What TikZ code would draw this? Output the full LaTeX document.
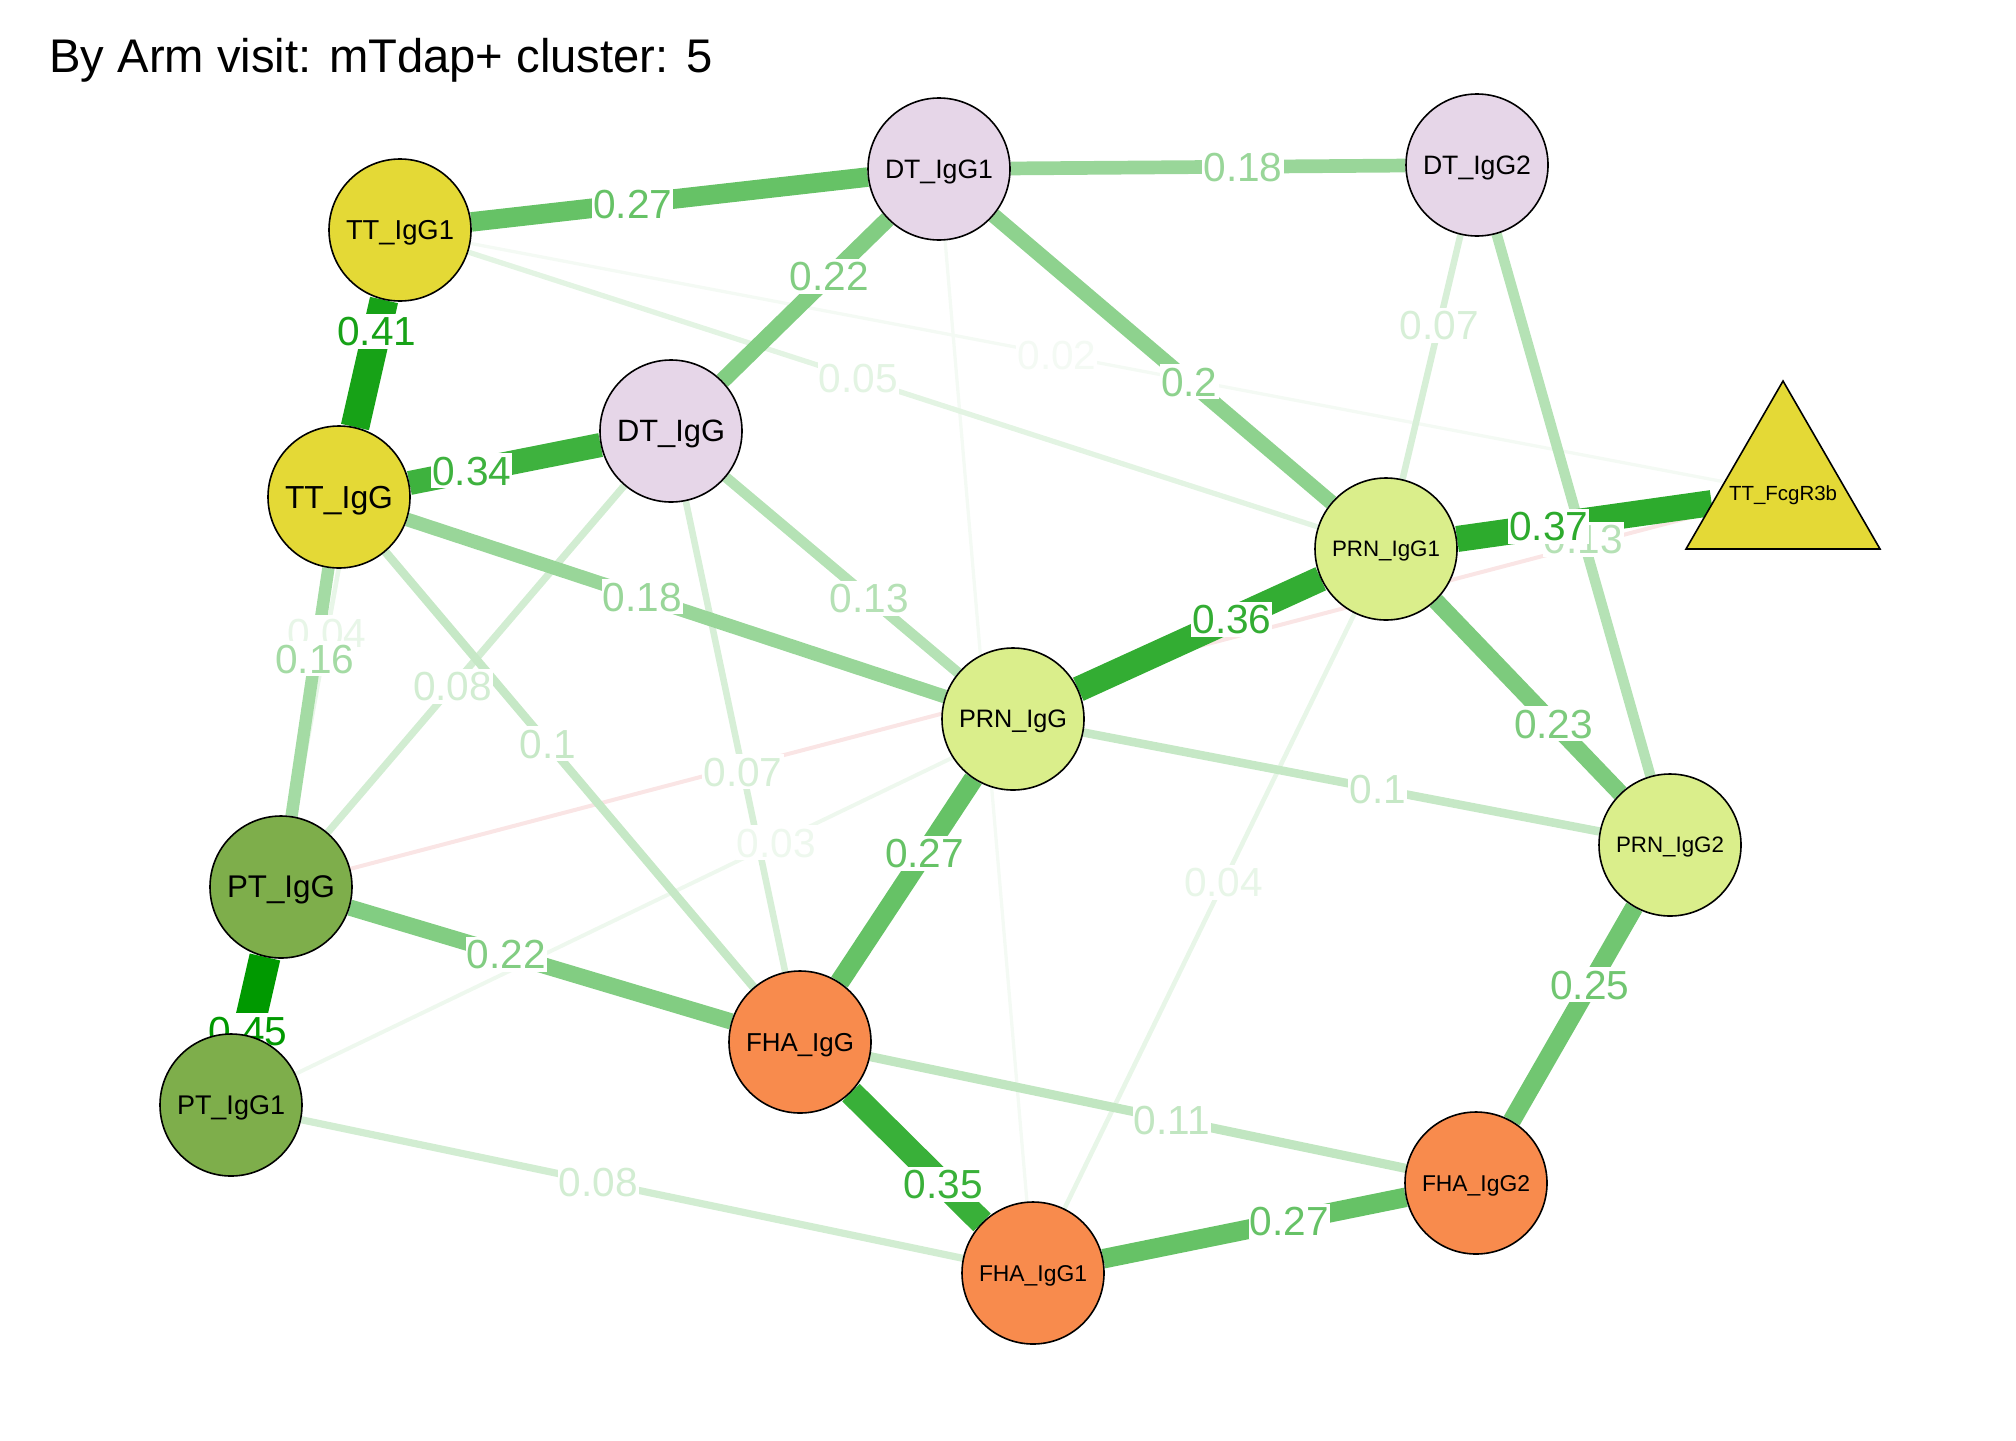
\documentclass[tikz,border=0pt]{standalone}
\usepackage{fontspec}
\setmainfont{Liberation Sans}
\usepackage{graphicx}
\usetikzlibrary{calc,shapes.geometric}
\definecolor{qPos}{HTML}{009900}
\definecolor{qNeg}{HTML}{CC0000}
\definecolor{TTfill}{RGB}{228,217,54}
\definecolor{DTfill}{RGB}{230,214,232}
\definecolor{PRNfill}{RGB}{218,238,139}
\definecolor{PTfill}{RGB}{126,174,75}
\definecolor{FHAfill}{RGB}{248,139,77}
\newcommand{\nlab}[1]{\resizebox{54pt}{!}{\raisebox{0pt}[\height][0pt]{#1}}}
\pgfdeclarelayer{edges}
\pgfdeclarelayer{labels}
\pgfsetlayers{edges,labels,main}

\begin{document}
\begin{tikzpicture}[x=0.5pt, y=-0.5pt]
  \tikzset{
    v/.style={circle, draw=black, line width=0.8pt, minimum size=71pt, inner sep=0pt},
    tri/.style={regular polygon, regular polygon sides=3, draw=black, line width=0.8pt, minimum size=112pt, inner sep=0pt},
    ew/.code={\pgfmathsetmacro\ecol{#1/0.45*100}\pgfmathsetmacro\ewid{1+32.5*#1}%
      \edef\edgeopts{\noexpand\tikzset{draw=qPos!\ecol!white, line width=\ewid pt}}\edgeopts},
    neg/.style={draw=qNeg!10!white, line width=2pt},
    elab/.style={fill=white, inner xsep=0.5pt, inner ysep=1.5pt, text height=14.5pt, text depth=0pt, font=\fontsize{20.3}{24}\selectfont},
    lab/.code={\pgfmathsetmacro\lcol{#1/0.45*100}%
      \edef\labopts{\noexpand\tikzset{elab, text=qPos!\lcol!white}}\labopts}
  }
  \useasboundingbox (0,0) rectangle (2016,1440);

  \node[anchor=base west, inner sep=0pt, font=\fontsize{23.6}{28}\selectfont] (title) at (49,72) {By Arm visit: mTdap+ cluster: 5};

  % nodes
  \node[v, fill=TTfill] (tt1) at (400,230) {\nlab{TT\_IgG1}};
  \node[v, fill=TTfill] (tt) at (339,497) {\nlab{TT\_IgG}};
  \node[v, fill=DTfill] (dt1) at (939,169) {\nlab{DT\_IgG1}};
  \node[v, fill=DTfill] (dt2) at (1477,165) {\nlab{DT\_IgG2}};
  \node[v, fill=DTfill] (dt) at (671,431) {\nlab{DT\_IgG}};
  \node[v, fill=PRNfill] (prn1) at (1386,549) {\nlab{PRN\_IgG1}};
  \node[v, fill=PRNfill] (prn) at (1013,719) {\nlab{PRN\_IgG}};
  \node[v, fill=PRNfill] (prn2) at (1670,845) {\nlab{PRN\_IgG2}};
  \node[v, fill=PTfill] (pt) at (281,887) {\nlab{PT\_IgG}};
  \node[v, fill=PTfill] (pt1) at (231,1105) {\nlab{PT\_IgG1}};
  \node[v, fill=FHAfill] (fha) at (800,1042) {\nlab{FHA\_IgG}};
  \node[v, fill=FHAfill] (fha1) at (1033,1273) {\nlab{FHA\_IgG1}};
  \node[v, fill=FHAfill] (fha2) at (1476,1183) {\nlab{FHA\_IgG2}};
  \node[tri, fill=TTfill, label={center:\nlab{TT\_FcgR3b}}] (fcg) at (1783,493) {};

  % edges, weakest first
  \begin{pgfonlayer}{edges}
    \draw[ew=0.02] (dt1) -- (fha1);
    \draw[neg] (pt) -- (fcg);
    \draw[ew=0.02] (tt1) -- (fcg);
    \draw[ew=0.03] (pt1) -- (prn1);
    \draw[ew=0.04] (tt1) -- (pt);
    \draw[ew=0.04] (prn1) -- (fha1);
    \draw[ew=0.05] (tt1) -- (prn1);
    \draw[ew=0.07] (dt2) -- (prn1);
    \draw[ew=0.07] (dt) -- (fha);
    \draw[ew=0.08] (dt) -- (pt);
    \draw[ew=0.08] (pt1) -- (fha1);
    \draw[ew=0.1] (tt) -- (fha);
    \draw[ew=0.1] (prn) -- (prn2);
    \draw[ew=0.11] (fha) -- (fha2);
    \draw[ew=0.13] (dt2) -- (prn2);
    \draw[ew=0.13] (dt) -- (prn);
    \draw[ew=0.16] (tt) -- (pt);
    \draw[ew=0.18] (dt1) -- (dt2);
    \draw[ew=0.18] (tt) -- (prn);
    \draw[ew=0.2] (dt1) -- (prn1);
    \draw[ew=0.22] (dt1) -- (dt);
    \draw[ew=0.22] (pt) -- (fha);
    \draw[ew=0.23] (prn1) -- (prn2);
    \draw[ew=0.25] (prn2) -- (fha2);
    \draw[ew=0.27] (tt1) -- (dt1);
    \draw[ew=0.27] (prn) -- (fha);
    \draw[ew=0.27] (fha1) -- (fha2);
    \draw[ew=0.34] (tt) -- (dt);
    \draw[ew=0.35] (fha) -- (fha1);
    \draw[ew=0.36] (prn) -- (prn1);
    \draw[ew=0.37] (prn1) -- (fcg);
    \draw[ew=0.41] (tt1) -- (tt);
    \draw[ew=0.45] (pt) -- (pt1);
  \end{pgfonlayer}

  % weights
  \begin{pgfonlayer}{labels}
    \node[lab=0.02] (w-tt1-fcg) at ($(tt1)!0.475!(fcg)$) {0.02};
    \node[lab=0.03] (w-pt1-prn1) at ($(pt1)!0.472!(prn1)$) {0.03};
    \node[lab=0.04] (w-tt1-pt) at ($(tt1)!0.613!(pt)$) {0.04};
    \node[lab=0.04] (w-prn1-fha1) at ($(prn1)!0.46!(fha1)$) {0.04};
    \node[lab=0.05] (w-tt1-prn1) at ($(tt1)!0.465!(prn1)$) {0.05};
    \node[lab=0.07] (w-dt2-prn1) at ($(dt2)!0.417!(prn1)$) {0.07};
    \node[lab=0.07] (w-dt-fha) at ($(dt)!0.558!(fha)$) {0.07};
    \node[lab=0.08] (w-dt-pt) at ($(dt)!0.56!(pt)$) {0.08};
    \node[lab=0.08] (w-pt1-fha1) at ($(pt1)!0.458!(fha1)$) {0.08};
    \node[lab=0.1] (w-tt-fha) at ($(tt)!0.453!(fha)$) {0.1};
    \node[lab=0.1] (w-prn-prn2) at ($(prn)!0.555!(prn2)$) {0.1};
    \node[lab=0.11] (w-fha-fha2) at ($(fha)!0.55!(fha2)$) {0.11};
    \node[lab=0.13] (w-dt2-prn2) at ($(dt2)!0.55!(prn2)$) {0.13};
    \node[lab=0.13] (w-dt-prn) at ($(dt)!0.58!(prn)$) {0.13};
    \node[lab=0.16] (w-tt-pt) at ($(tt)!0.415!(pt)$) {0.16};
    \node[lab=0.18] (w-dt1-dt2) at ($(dt1)!0.565!(dt2)$) {0.18};
    \node[lab=0.18] (w-tt-prn) at ($(tt)!0.45!(prn)$) {0.18};
    \node[lab=0.2] (w-dt1-prn1) at ($(dt1)!0.56!(prn1)$) {0.2};
    \node[lab=0.22] (w-dt1-dt) at ($(dt1)!0.41!(dt)$) {0.22};
    \node[lab=0.22] (w-pt-fha) at ($(pt)!0.434!(fha)$) {0.22};
    \node[lab=0.23] (w-prn1-prn2) at ($(prn1)!0.59!(prn2)$) {0.23};
    \node[lab=0.25] (w-prn2-fha2) at ($(prn2)!0.413!(fha2)$) {0.25};
    \node[lab=0.27] (w-tt1-dt1) at ($(tt1)!0.432!(dt1)$) {0.27};
    \node[lab=0.27] (w-prn-fha) at ($(prn)!0.415!(fha)$) {0.27};
    \node[lab=0.27] (w-fha1-fha2) at ($(fha1)!0.578!(fha2)$) {0.27};
    \node[lab=0.34] (w-tt-dt) at ($(tt)!0.40!(dt)$) {0.34};
    \node[lab=0.35] (w-fha-fha1) at ($(fha)!0.615!(fha1)$) {0.35};
    \node[lab=0.36] (w-prn-prn1) at ($(prn)!0.587!(prn1)$) {0.36};
    \node[lab=0.37] (w-prn1-fcg) at ($(prn1)!0.41!(fcg)$) {0.37};
    \node[lab=0.41] (w-tt1-tt) at ($(tt1)!0.38!(tt)$) {0.41};
    \node[lab=0.45] (w-pt-pt1) at ($(pt)!0.66!(pt1)$) {0.45};
  \end{pgfonlayer}
\end{tikzpicture}
\end{document}
